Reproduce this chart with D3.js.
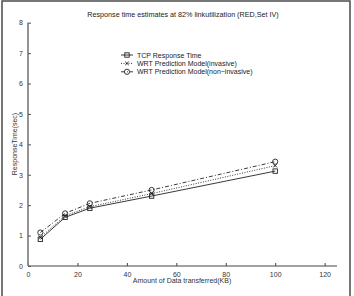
<!DOCTYPE html>
<html>
<head>
<meta charset="utf-8">
<script src="https://cdn.jsdelivr.net/npm/d3@7"></script>
<style>
  body { margin: 0; background: #fff; }
  text { font-family: "Liberation Sans", Arial, sans-serif; }
</style>
</head>
<body>
<div id="chart"></div>
<script>
// Werte
const dataKB = [5, 15, 25, 50, 100];
const tcpResponse = [0.88, 1.6, 1.9, 2.3, 3.12];
const wrtInvasive = [0.94, 1.65, 1.95, 2.38, 3.3];
const wrtNonInvasive = [1.1, 1.73, 2.06, 2.5, 3.43];
const xTicks = [0, 20, 40, 60, 80, 100, 120];
const yTicks = [0, 1, 2, 3, 4, 5, 6, 7, 8];

const W = 354, H = 296;
const svg = d3.select("#chart").append("svg").attr("width", W).attr("height", H);

// Rahmen
svg.append("rect").attr("x", 2).attr("y", 1).attr("width", 348).attr("height", H + 5)
  .attr("fill", "none").attr("stroke", "#555").attr("stroke-width", 1.6);

const x = d3.scaleLinear().domain([0, 125]).range([28, 337]);
const y = d3.scaleLinear().domain([0, 8]).range([266, 22.7]);

// Achsen
const xAxis = svg.append("g").attr("transform", `translate(0,${y(0)})`)
  .call(d3.axisBottom(x).tickValues(xTicks).tickSize(-3).tickPadding(6));
xAxis.select(".domain").attr("stroke", "#444").attr("d", `M${x(0)},0H${x(125)}`);
xAxis.selectAll(".tick line").attr("stroke", "#444");
xAxis.selectAll("text").attr("font-size", 7).attr("fill", "#333");

const yAxis = svg.append("g").attr("transform", `translate(${x(0)},0)`)
  .call(d3.axisLeft(y).tickValues(yTicks).tickSize(-3).tickPadding(5));
yAxis.select(".domain").attr("stroke", "#888").attr("stroke-width", 1.8)
  .attr("d", `M0,${y(0)}V${y(8)}`);
yAxis.selectAll(".tick line").attr("stroke", "#555");
yAxis.selectAll("text").attr("font-size", 7).attr("fill", "#333");

// Titel und Beschriftungen
svg.append("text").attr("x", 183).attr("y", 17).attr("text-anchor", "middle")
  .attr("font-size", 7.2).attr("fill", "#222")
  .text("Response time estimates at 82% linkutilization (RED,Set IV)");
svg.append("text").attr("x", 182).attr("y", 283).attr("text-anchor", "middle")
  .attr("font-size", 7).attr("fill", "#333").text("Amount of Data transferred(KB)");
svg.append("text").attr("transform", "translate(17,144) rotate(-90)").attr("text-anchor", "middle")
  .attr("font-size", 7).attr("fill", "#333").text("ResponseTime(sec)");

const series = [
  { name: "TCP Response Time", values: tcpResponse, dash: null, marker: "square" },
  { name: "WRT Prediction Model(invasive)", values: wrtInvasive, dash: "1,1.5", marker: "x" },
  { name: "WRT Prediction Model(non\u2212invasive)", values: wrtNonInvasive, dash: "4,2,1,2", marker: "circle" }
];

const line = d3.line().x(d => x(d[0])).y(d => y(d[1]));

function drawMarker(g, type, cx, cy) {
  if (type === "square") {
    g.append("rect").attr("x", cx - 2.2).attr("y", cy - 2.2).attr("width", 4.4).attr("height", 4.4)
      .attr("fill", "none").attr("stroke", "#222").attr("stroke-width", 0.9);
  } else if (type === "x") {
    g.append("path").attr("d", `M${cx-1.8},${cy-1.8}L${cx+1.8},${cy+1.8}M${cx-1.8},${cy+1.8}L${cx+1.8},${cy-1.8}`)
      .attr("stroke", "#222").attr("stroke-width", 0.9);
  } else {
    g.append("circle").attr("cx", cx).attr("cy", cy).attr("r", 2.6)
      .attr("fill", "none").attr("stroke", "#222").attr("stroke-width", 0.9);
  }
}

series.forEach(s => {
  const pts = dataKB.map((k, i) => [k, s.values[i]]);
  svg.append("path").attr("d", line(pts)).attr("fill", "none")
    .attr("stroke", "#222").attr("stroke-width", 0.9)
    .attr("stroke-dasharray", s.dash);
  const g = svg.append("g");
  pts.forEach(p => drawMarker(g, s.marker, x(p[0]), y(p[1])));
});

// Legende
const legend = svg.append("g");
series.forEach((s, i) => {
  const ly = 55 + i * 8.4;
  legend.append("line").attr("x1", 121).attr("x2", 133).attr("y1", ly).attr("y2", ly)
    .attr("stroke", "#222").attr("stroke-width", 0.9).attr("stroke-dasharray", s.dash);
  drawMarker(legend, s.marker, 127, ly);
  legend.append("text").attr("x", 137).attr("y", ly + 2.5).attr("font-size", 7)
    .attr("fill", "#222").text(s.name);
});
</script>
</body>
</html>
